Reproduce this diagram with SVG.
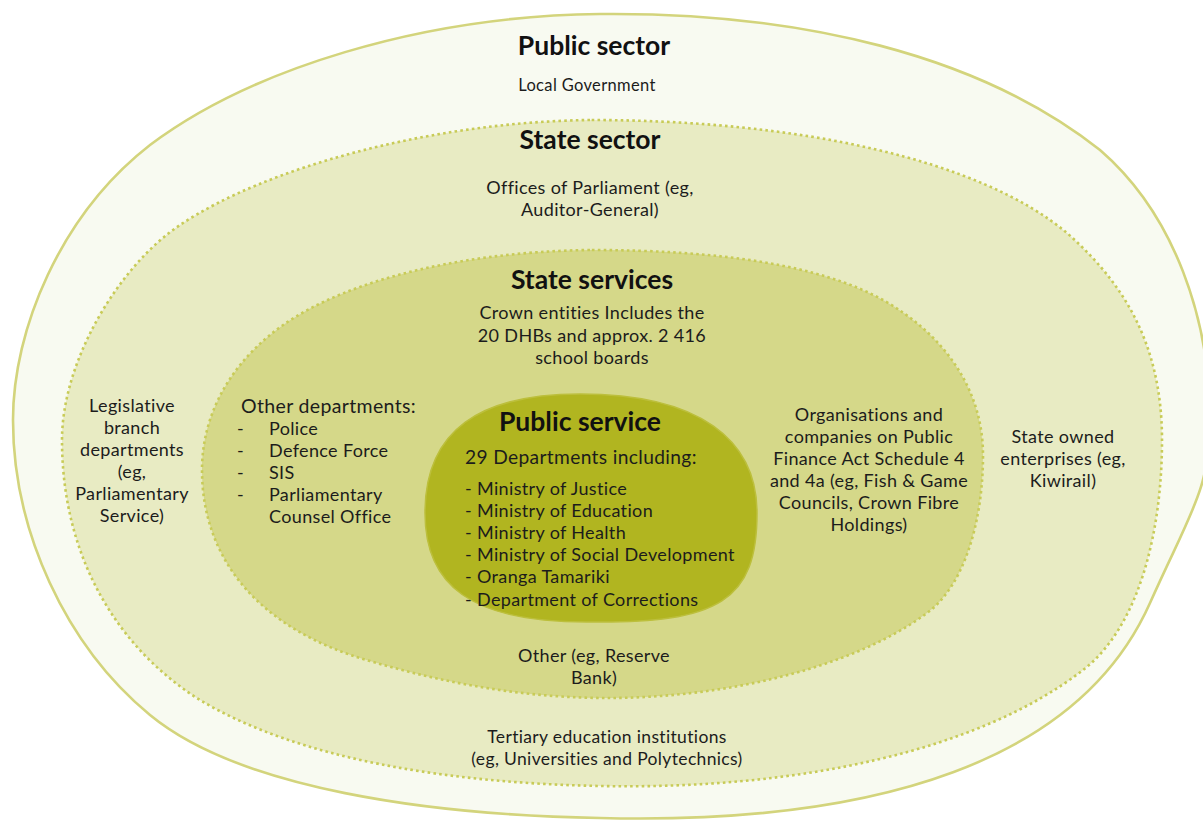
<svg xmlns="http://www.w3.org/2000/svg" width="1203" height="820" viewBox="0 0 1203 820">
  <style>
    .t { font-family: Lato, "Liberation Sans", sans-serif; font-size: 18px; letter-spacing: 0.35px; fill: #1c1c1c; }
    .c { text-anchor: middle; }
    .h { font-family: Lato, "Liberation Sans", sans-serif; font-weight: bold; font-size: 26.5px; fill: #111; text-anchor: middle; }
    .dot { stroke: #c8cb57; stroke-width: 2.6; stroke-dasharray: 2.6 3.2; }
  </style>
  <rect width="1203" height="820" fill="#ffffff"/>

  <!-- Public sector -->
  <g id="public-sector">
    <path d="M 600,14 C 420,16 250,70 150,145 C 60,215 13,330 13,420 C 13,530 65,645 150,715 C 240,789 430,815 600,818 C 880,825 1080,760 1150,603 C 1190,513 1210,490 1210,420 C 1210,320 1175,215 1100,150 C 980,55 800,12 600,14 Z" fill="#f8faf1" stroke="#d3d47c" stroke-width="2.6"/>
    <text class="h" x="594" y="55">Public sector</text>
    <text class="t c" x="587" y="91" style="font-size:16.5px">Local Government</text>
  </g>

  <!-- State sector -->
  <g id="state-sector">
    <path class="dot" d="M 590,120 C 430,122 265,168 180,225 C 120,265 62,360 62,440 C 62,560 120,650 200,700 C 300,760 450,783 600,786 C 800,790 980,750 1083,670 C 1140,626 1162,530 1162,440 C 1162,340 1120,280 1067,233 C 980,160 800,120 590,120 Z" fill="#e8ebc3"/>
    <text class="h" x="590" y="149">State sector</text>
    <text class="t c" x="590" y="194">Offices of Parliament (eg,</text>
    <text class="t c" x="590" y="216">Auditor-General)</text>
    <text class="t c" x="132" y="412">Legislative</text>
    <text class="t c" x="132" y="434">branch</text>
    <text class="t c" x="132" y="456">departments</text>
    <text class="t c" x="132" y="478">(eg,</text>
    <text class="t c" x="132" y="500">Parliamentary</text>
    <text class="t c" x="132" y="522">Service)</text>
    <text class="t c" x="1063" y="443">State owned</text>
    <text class="t c" x="1063" y="465">enterprises (eg,</text>
    <text class="t c" x="1063" y="487">Kiwirail)</text>
    <text class="t c" x="607" y="743" style="font-size:17.5px">Tertiary education institutions</text>
    <text class="t c" x="607" y="765" style="font-size:17.5px">(eg, Universities and Polytechnics)</text>
  </g>

  <!-- State services -->
  <g id="state-services">
    <path class="dot" d="M 590,250 C 450,252 330,285 270,335 C 225,372 202,420 202,470 C 202,560 260,630 370,661 C 450,685 530,698 607,698 C 720,698 850,670 927,613 C 965,585 983,520 983,455 C 983,390 945,335 883,300 C 820,265 720,250 590,250 Z" fill="#d5d889"/>
    <text class="h" x="592" y="289">State services</text>
    <text class="t c" x="592" y="319">Crown entities Includes the</text>
    <text class="t c" x="592" y="342">20 DHBs and approx. 2 416</text>
    <text class="t c" x="592" y="364">school boards</text>
    <text class="t" x="241" y="413" style="font-size:19.5px">Other departments:</text>
    <text class="t" x="237" y="435">-</text><text class="t" x="269" y="435">Police</text>
    <text class="t" x="237" y="457">-</text><text class="t" x="269" y="457">Defence Force</text>
    <text class="t" x="237" y="479">-</text><text class="t" x="269" y="479">SIS</text>
    <text class="t" x="237" y="501">-</text><text class="t" x="269" y="501">Parliamentary</text>
    <text class="t" x="269" y="523">Counsel Office</text>
    <text class="t c" x="869" y="421">Organisations and</text>
    <text class="t c" x="869" y="443">companies on Public</text>
    <text class="t c" x="869" y="465">Finance Act Schedule 4</text>
    <text class="t c" x="869" y="487">and 4a (eg, Fish &amp; Game</text>
    <text class="t c" x="869" y="509">Councils, Crown Fibre</text>
    <text class="t c" x="869" y="531">Holdings)</text>
    <text class="t c" x="594" y="662">Other (eg, Reserve</text>
    <text class="t c" x="594" y="684">Bank)</text>
  </g>

  <!-- Public service -->
  <g id="public-service">
    <path d="M 580,394 C 700,394 757,440 757,513 C 757,600 720,624 587,622 C 470,622 425,585 425,513 C 425,430 480,394 580,394 Z" fill="#b1b520" stroke="#bcbf3c" stroke-width="1.5"/>
    <text class="h" x="580" y="431">Public service</text>
    <text class="t" x="465" y="464" style="font-size:19.2px">29 Departments including:</text>
    <text class="t" x="465" y="495">- Ministry of Justice</text>
    <text class="t" x="465" y="517">- Ministry of Education</text>
    <text class="t" x="465" y="539">- Ministry of Health</text>
    <text class="t" x="465" y="561">- Ministry of Social Development</text>
    <text class="t" x="465" y="583">- Oranga Tamariki</text>
    <text class="t" x="465" y="606">- Department of Corrections</text>
  </g>
</svg>
